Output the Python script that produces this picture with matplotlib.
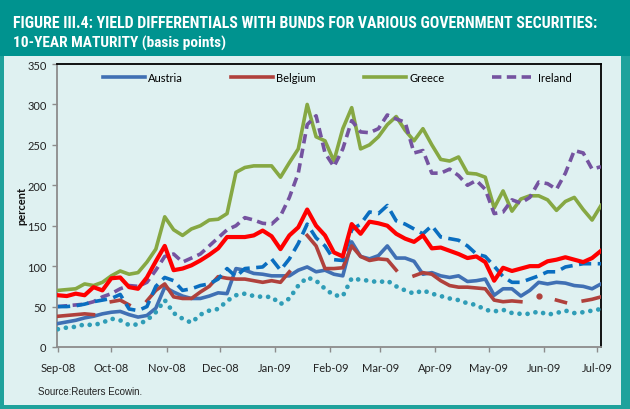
import numpy as np
import pandas as pd
import matplotlib
matplotlib.use("Agg")
import matplotlib.pyplot as plt
import matplotlib.dates as mdates
from matplotlib.patches import Rectangle
from matplotlib import font_manager

# 5-day samples, Sep 1 2008 .. Jul 3 2009
dates = pd.date_range("2008-09-01", "2009-07-03", freq="5D")

austria = [29, 31, 33, 36, 38, 41, 43, 44, 40, 37, 39, 48, 74, 68, 63, 60,
           60, 63, 67, 66, 97, 95, 91, 90, 88, 88, 88, 95, 99, 93, 95, 90,
           88, 130, 112, 109, 113, 125, 110, 110, 106, 90, 92, 88, 86, 88,
           81, 82, 84, 64, 72, 72, 63, 70, 80, 78, 80, 79, 76, 75, 72, 78]
belgium = [38, 39, 40, 41, 40, np.nan, 56, 58, 52, np.nan, 57, 70, 78, 62,
           60, 60, 68, 75, 87, 85, 84, 84, 82, 80, 82, 80, 93, np.nan, 138,
           125, 97, 97, 98, 125, 112, 107, 109, 108, 95, np.nan, 88, 92, 90,
           82, 76, 74, 74, 73, 72, 58, 56, 57, 56, np.nan, 63, np.nan, 58,
           55, np.nan, 57, 59, 62]
greece = [70, 71, 72, 78, 76, 80, 88, 94, 90, 92, 105, 121, 161, 145, 138,
          146, 150, 157, 158, 165, 216, 222, 224, 224, 224, 210, 228, 245,
          300, 260, 255, 230, 270, 296, 245, 250, 260, 275, 285, 268, 255,
          270, 250, 232, 230, 235, 215, 214, 210, 172, 193, 168, 183, 187,
          187, 182, 169, 180, 185, 170, 157, 175]
ireland = [50, 51, 52, 53, 56, 62, 66, 72, 76, 75, 80, 95, 112, 115, 105,
           110, 115, 125, 135, 145, 150, 160, 157, 153, 152, 162, 185, 215,
           275, 286, 240, 223, 245, 280, 266, 265, 270, 287, 282, 278, 240,
           243, 215, 215, 220, 212, 200, 206, 195, 165, 167, 182, 178, 185,
           204, 202, 195, 215, 243, 240, 220, 223]
red_series = [64, 63, 66, 64, 74, 70, 85, 86, 74, 72, 86, 106, 125, 95, 97,
              101, 107, 114, 122, 136, 136, 136, 138, 144, 137, 121, 138, 148,
              170, 150, 138, 117, 112, 152, 140, 155, 153, 150, 140, 134, 130,
              138, 122, 123, 119, 115, 110, 112, 105, 82, 98, 94, 97, 100, 100,
              106, 108, 111, 108, 105, 110, 119]
blue_dashed = [50, 50, 51, 53, 56, 58, 60, 65, 47, 45, 50, 75, 86, 82, 70,
               72, 76, 78, 84, 97, 87, 97, 98, 99, 109, 95, 109, 128, 152,
               135, 125, 108, 107, 145, 152, 167, 165, 175, 156, 152, 146,
               140, 150, 136, 134, 132, 125, 115, 112, 100, 87, 80, 80, 84,
               88, 93, 93, 99, 101, 103, 103, 103]
teal_dotted = [22, 24, 25, 28, 27, 30, 35, 33, 27, 28, 33, 43, 58, 42, 35,
               30, 40, 45, 47, 57, 64, 66, 63, 62, 62, 53, 60, 76, 86, 82, 72,
               64, 63, 85, 83, 82, 80, 82, 75, 70, 66, 70, 66, 63, 60, 58, 54,
               52, 46, 44, 46, 42, 41, 41, 44, 40, 42, 45, 42, 43, 45, 47]

y_ticks = [0, 50, 100, 150, 200, 250, 300, 350]
title_1 = "FIGURE III.4: YIELD DIFFERENTIALS WITH BUNDS FOR VARIOUS GOVERNMENT SECURITIES:"
title_2 = "10-YEAR MATURITY (basis points)"
source = "Source:Reuters Ecowin."

W, H = 630, 410
TEAL = "#00938F"
PANEL = "#DFF1F1"

names = {f.name for f in font_manager.fontManager.ttflist}
head_font = next((f for f in ["Liberation Sans Narrow", "DejaVu Sans Condensed",
                              "Roboto Condensed", "Liberation Sans"] if f in names),
                 "DejaVu Sans")
tick_font = "Lato" if "Lato" in names else "DejaVu Sans"
plt.rcParams["font.family"] = tick_font

fig = plt.figure(figsize=(W / 100, H / 100), dpi=100)
fig.patch.set_facecolor("#1FA29C")
# light panel and teal header
fig.patches.append(Rectangle((4 / W, 4 / H), (621 - 4) / W, (H - 57 - 4) / H,
                             transform=fig.transFigure, facecolor=PANEL,
                             edgecolor="none", zorder=-2))
fig.patches.append(Rectangle((0, (H - 57) / H), 1, 57 / H,
                             transform=fig.transFigure, facecolor=TEAL,
                             edgecolor="none", zorder=-2))


def fit_text(x, y, s, width_px, size):
    t = fig.text(x / W, 1 - y / H, s, color="white", fontweight="bold",
                 family=head_font, fontsize=size, va="center", ha="left")
    r = fig.canvas.get_renderer()
    w = t.get_window_extent(r).width
    t.set_fontsize(size * width_px / w)
    return t


fit_text(13, 24, title_1, 585, 10)
fit_text(13, 43, title_2, 214, 10)

ax = fig.add_axes([57 / W, (H - 348) / H, (601 - 57) / W, (348 - 65) / H])
ax.set_facecolor(PANEL)

ax.plot(dates, austria, color="#4070B4", lw=2.6, label="Austria", zorder=3)
ax.plot(dates, belgium, color="#B0413C", lw=2.6, marker="o", ms=0,
        label="Belgium", zorder=3)
b = np.array(belgium, dtype=float)
prev_nan = np.r_[True, np.isnan(b[:-1])]
next_nan = np.r_[np.isnan(b[1:]), True]
lone = ~np.isnan(b) & prev_nan & next_nan
ax.plot(dates[lone], b[lone], "o", color="#B0413C", ms=3.5, zorder=3)
ax.plot(dates, greece, color="#86A843", lw=2.6, label="Greece", zorder=3)
ax.plot(dates, ireland, color="#7553A0", lw=2.6, ls=(0, (2.6, 1.5)),
        label="Ireland", zorder=3)
ax.plot(dates, red_series, color="#FF0000", lw=3.0, zorder=4)
ax.plot(dates, blue_dashed, color="#0A6EC0", lw=2.6, ls=(0, (3.4, 1.8)), zorder=3)
ax.plot(dates, teal_dotted, color="#2F9DB7", lw=3.4, ls=(0, (0.01, 1.7)),
        dash_capstyle="round", zorder=3)

ax.set_ylim(0, 350)
ax.set_yticks(y_ticks)
ax.set_xlim(pd.Timestamp("2008-08-31 12:00"), pd.Timestamp("2009-07-03"))
ax.xaxis.set_major_locator(mdates.MonthLocator())
ax.xaxis.set_major_formatter(mdates.DateFormatter("%b-%y"))

for s in ["left", "bottom"]:
    ax.spines[s].set_color("#8C8C8C")
    ax.spines[s].set_linewidth(1.3)
for s in ["top", "right"]:
    ax.spines[s].set_color("black")
    ax.spines[s].set_linewidth(1.3)
ax.tick_params(axis="both", direction="out", length=3.5, width=1,
               color="#8C8C8C", labelsize=8, labelcolor="#222222")
ax.tick_params(axis="x", pad=7)
ax.tick_params(axis="y", pad=4)

fig.text(22 / W, 1 - 206 / H, "percent", rotation=90, fontsize=8,
         fontweight="bold", ha="center", va="center", color="#111111")
fig.text(38 / W, 1 - 392 / H, source, fontsize=7, family="Liberation Sans",
         ha="left", va="center", color="#222222")

ax.legend(loc="center", bbox_to_anchor=(0.515, 0.952), ncol=4, frameon=False,
          fontsize=8, handlelength=3.8, handletextpad=0.3,
          columnspacing=4.3)

fig.savefig("out.png", dpi=100, facecolor=fig.get_facecolor())
